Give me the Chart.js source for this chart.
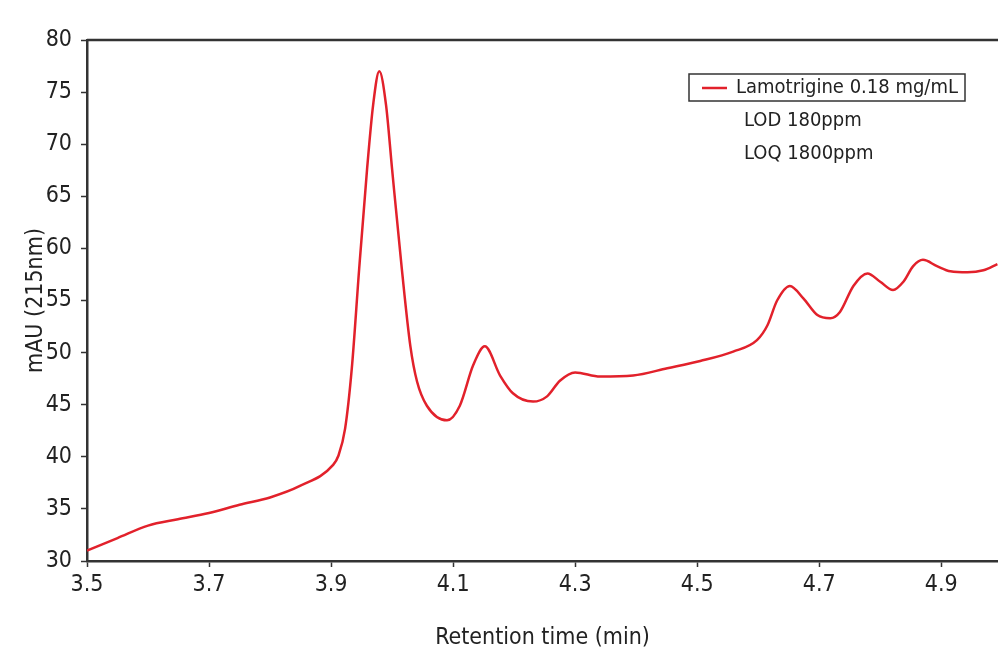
<!DOCTYPE html>
<html>
<head>
<meta charset="utf-8">
<script src="https://cdn.jsdelivr.net/npm/chart.js@4.4.1/dist/chart.umd.min.js"></script>
<style>
  html, body { margin: 0; padding: 0; background: #ffffff; }
  #wrap { width: 998px; height: 660px; position: relative; }
</style>
</head>
<body>
<div id="wrap"><canvas id="chromChart"></canvas></div>
<script>
// Chromatogram data
const retentionTimes = [
    3.500, 3.550, 3.600, 3.649, 3.700, 3.750, 3.800, 3.849, 3.903, 3.912,
    3.923, 3.934, 3.946, 3.959, 3.969, 3.979, 3.990, 4.000, 4.016, 4.030,
    4.041, 4.057, 4.090, 4.111, 4.133, 4.152, 4.177, 4.198, 4.231,
    4.254, 4.275, 4.300, 4.341, 4.395, 4.451, 4.505, 4.559, 4.598, 4.615,
    4.631, 4.652, 4.674, 4.697, 4.718, 4.734, 4.756, 4.779, 4.800, 4.821,
    4.838, 4.854, 4.870, 4.893, 4.915, 4.943, 4.969, 4.992
];
const absorbance = [
    31.0, 32.2, 33.4, 34.0, 34.6, 35.4, 36.1, 37.2, 39.2, 40.1,
    42.7, 48.5, 58.0, 67.6, 73.8, 77.0, 73.8, 67.6, 58.0, 50.6,
    47.2, 44.9, 43.5, 44.9, 48.8, 50.6, 47.8, 46.1, 45.3,
    45.8, 47.3, 48.1, 47.7, 47.8, 48.5, 49.2, 50.1, 51.2, 52.6,
    55.0, 56.4, 55.2, 53.6, 53.3, 53.9, 56.4, 57.6, 56.8, 56.0,
    56.8, 58.3, 58.9, 58.3, 57.8, 57.7, 57.9, 58.5
];
const xTickValues = [3.5, 3.7, 3.9, 4.1, 4.3, 4.5, 4.7, 4.9];
const seriesLabel = 'Lamotrigine 0.18 mg/mL';
const noteLines = ['LOD 180ppm', 'LOQ 1800ppm'];

const LINE_RED = '#e2212b';
const AXIS_DARK = '#333333';
const FONT = '"DejaVu Sans Condensed", "Liberation Sans Narrow", Arial, sans-serif';

// top frame line + boxed legend with the LOD / LOQ notes
const frameAndLegend = {
    id: 'frameAndLegend',
    afterDraw(chart) {
        const { ctx, chartArea } = chart;
        ctx.save();
        ctx.strokeStyle = AXIS_DARK;
        ctx.lineWidth = 2.5;
        ctx.beginPath();
        ctx.moveTo(chartArea.left, chartArea.top);
        ctx.lineTo(chartArea.right, chartArea.top);
        ctx.stroke();

        // legend box
        ctx.lineWidth = 1.5;
        ctx.strokeRect(689, 74, 276, 27);
        ctx.strokeStyle = LINE_RED;
        ctx.lineWidth = 2.5;
        ctx.beginPath();
        ctx.moveTo(702, 88);
        ctx.lineTo(727, 88);
        ctx.stroke();

        ctx.fillStyle = '#222222';
        ctx.font = '20px ' + FONT;
        ctx.textBaseline = 'middle';
        ctx.textAlign = 'left';
        ctx.fillText(seriesLabel, 736, 88);
        ctx.fillText(noteLines[0], 744, 121);
        ctx.fillText(noteLines[1], 744, 154);
        ctx.restore();
    }
};

const points = retentionTimes.map((t, i) => ({ x: t, y: absorbance[i] }));

const config = {
    type: 'line',
    data: {
        datasets: [{
            label: seriesLabel,
            data: points,
            borderColor: LINE_RED,
            borderWidth: 2.5,
            pointRadius: 0,
            fill: false,
            tension: 0.4,
            cubicInterpolationMode: 'monotone'
        }]
    },
    options: {
        responsive: true,
        maintainAspectRatio: false,
        animation: false,
        layout: { padding: { top: 40, right: 0, left: 0, bottom: 0 } },
        plugins: {
            legend: { display: false },
            tooltip: { enabled: false }
        },
        scales: {
            x: {
                type: 'linear',
                min: 3.5,
                max: 4.993,
                afterBuildTicks: (scale) => {
                    scale.ticks = xTickValues.map(v => ({ value: v }));
                },
                afterFit: (scale) => { scale.height = 99; },
                border: { display: true, color: AXIS_DARK, width: 2.5 },
                grid: { drawOnChartArea: false, tickLength: 6, color: AXIS_DARK, tickWidth: 1.5 },
                ticks: {
                    color: '#222222',
                    padding: 4,
                    maxRotation: 0,
                    font: { family: FONT, size: 23 },
                    callback: (v) => Number(v).toFixed(1)
                },
                title: {
                    display: true,
                    text: 'Retention time (min)',
                    color: '#222222',
                    font: { family: FONT, size: 23 },
                    padding: { top: 0, bottom: 8 }
                }
            },
            y: {
                min: 30,
                max: 80,
                afterFit: (scale) => { scale.width = 87; },
                border: { display: true, color: AXIS_DARK, width: 2.5 },
                grid: { drawOnChartArea: false, tickLength: 6, color: AXIS_DARK, tickWidth: 1.5 },
                ticks: {
                    stepSize: 5,
                    color: '#222222',
                    padding: 9,
                    font: { family: FONT, size: 23 }
                },
                title: {
                    display: true,
                    text: 'mAU (215nm)',
                    color: '#222222',
                    font: { family: FONT, size: 23 },
                    padding: { top: 22, bottom: 0 }
                }
            }
        }
    },
    plugins: [frameAndLegend]
};

new Chart(document.getElementById('chromChart'), config);
</script>
</body>
</html>
